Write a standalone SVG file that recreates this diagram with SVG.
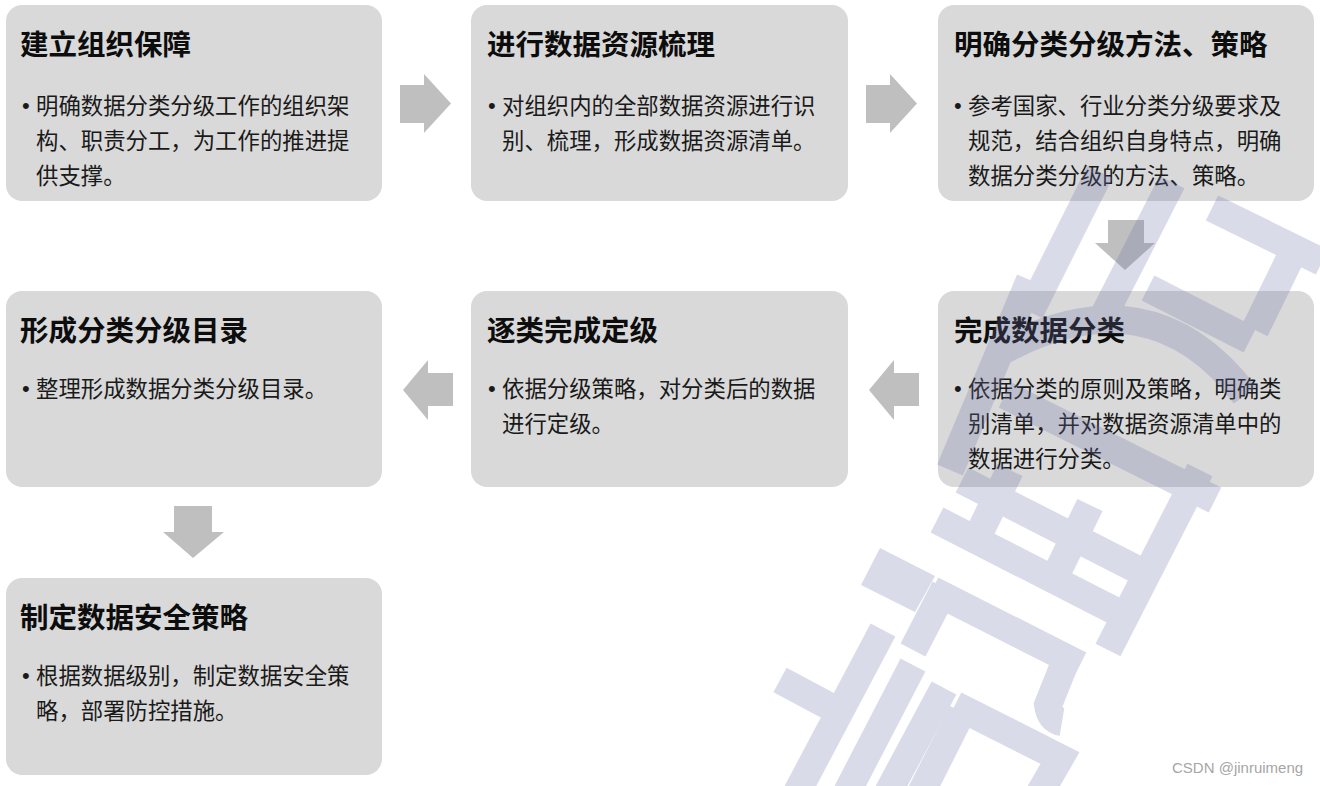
<svg xmlns="http://www.w3.org/2000/svg" width="1320" height="786" viewBox="0 0 1320 786">
<style>
.box{fill:#d9d9d9}
.title{font-family:"Noto Sans CJK SC","Noto Sans",sans-serif;font-size:28.5px;font-weight:700;fill:#0d0d0d}
.body{font-family:"Noto Sans CJK SC","Noto Sans",sans-serif;font-size:22.4px;fill:#1a1a1a}
.bullet{font-family:"Liberation Sans",Arial,sans-serif;font-size:22px;fill:#1a1a1a}
.arrow{fill:#bfbfbf}
.wm{fill:none;stroke:#6e73aa;stroke-width:28;stroke-linecap:butt;stroke-linejoin:miter}
.wmf{fill:#6e73aa}
.credit{font-family:"Liberation Sans",Arial,sans-serif;font-size:15px;fill:#a6a6a6}
</style>
<rect width="1320" height="786" fill="#ffffff"/>

<g id="node-1">
<rect class="box" x="6" y="5" width="376" height="196" rx="16"/>
<text class="title" x="20" y="55">建立组织保障</text>
<text class="bullet" x="22" y="113">•</text>
<text class="body" x="36" y="114">明确数据分类分级工作的组织架</text>
<text class="body" x="36" y="149">构、职责分工，为工作的推进提</text>
<text class="body" x="36" y="184">供支撑。</text>
</g>

<g id="node-2">
<rect class="box" x="471" y="5" width="377" height="196" rx="16"/>
<text class="title" x="487" y="55">进行数据资源梳理</text>
<text class="bullet" x="488" y="113">•</text>
<text class="body" x="502" y="114">对组织内的全部数据资源进行识</text>
<text class="body" x="502" y="149">别、梳理，形成数据资源清单。</text>
</g>

<g id="node-3">
<rect class="box" x="938" y="5" width="376" height="196" rx="16"/>
<text class="title" x="954" y="55">明确分类分级方法、策略</text>
<text class="bullet" x="954" y="113">•</text>
<text class="body" x="968" y="114">参考国家、行业分类分级要求及</text>
<text class="body" x="968" y="149">规范，结合组织自身特点，明确</text>
<text class="body" x="968" y="184">数据分类分级的方法、策略。</text>
</g>

<g id="node-4">
<rect class="box" x="6" y="291" width="376" height="196" rx="16"/>
<text class="title" x="20" y="341">形成分类分级目录</text>
<text class="bullet" x="22" y="396">•</text>
<text class="body" x="36" y="397">整理形成数据分类分级目录。</text>
</g>

<g id="node-5">
<rect class="box" x="471" y="291" width="377" height="196" rx="16"/>
<text class="title" x="487" y="341">逐类完成定级</text>
<text class="bullet" x="488" y="396">•</text>
<text class="body" x="502" y="397">依据分级策略，对分类后的数据</text>
<text class="body" x="502" y="432">进行定级。</text>
</g>

<g id="node-6">
<rect class="box" x="938" y="291" width="376" height="196" rx="16"/>
<text class="title" x="954" y="341">完成数据分类</text>
<text class="bullet" x="954" y="396">•</text>
<text class="body" x="968" y="397">依据分类的原则及策略，明确类</text>
<text class="body" x="968" y="432">别清单，并对数据资源清单中的</text>
<text class="body" x="968" y="467">数据进行分类。</text>
</g>

<g id="node-7">
<rect class="box" x="6" y="578" width="376" height="197" rx="16"/>
<text class="title" x="20" y="628">制定数据安全策略</text>
<text class="bullet" x="22" y="683">•</text>
<text class="body" x="36" y="684">根据数据级别，制定数据安全策</text>
<text class="body" x="36" y="719">略，部署防控措施。</text>
</g>

<g id="connectors">
<polygon class="arrow" points="400,85 424,85 424,74 451,103.5 424,133 424,123 400,123"/>
<polygon class="arrow" points="866,85 890,85 890,74 917,103.5 890,133 890,123 866,123"/>
<polygon class="arrow" points="1108,220 1144,220 1144,243 1155,243 1125,270 1095,243 1108,243"/>
<polygon class="arrow" points="919,373 894,373 894,360 869,390 894,420 894,406 919,406"/>
<polygon class="arrow" points="453,373 428,373 428,360 403,390 428,420 428,406 453,406"/>
<polygon class="arrow" points="174,506 212,506 212,532 224,532 193,558 163,532 174,532"/>
</g>

<g id="watermark" opacity="0.25">
<path class="wm" d="M1100,172 L1030,312"/>
<path class="wm" d="M1172,182 L1104,315"/>
<path class="wm" d="M1212,208 L1322,262"/>
<path class="wm" d="M1300,238 L1255,330"/>
<path class="wm" d="M1148,288 L1250,340"/>
<path class="wm" d="M1000,352 Q1150,270 1245,395"/>
<path class="wm" d="M1030,280 L950,470"/>
<path class="wm" d="M1005,395 L1215,500"/>
<path class="wm" d="M962,480 L1140,571"/>
<path class="wm" d="M937,520 L1115,611"/>
<path class="wm" d="M1010,470 L976,540"/>
<path class="wm" d="M1090,505 L1056,575"/>
<path class="wm" d="M1200,470 L1108,650"/>
<path class="wm" d="M932,590 L1080,665"/>
<path class="wm" d="M945,588 L913,650"/>
<path class="wm" d="M1070,650 L1048,705 Q1050,720 1062,722"/>
<polygon class="wmf" points="880,548 935,576 915,612 861,585"/>
<path class="wm" d="M883,630 L793,800"/>
<path class="wm" d="M913,665 L843,800"/>
<path class="wm" d="M944,688 L884,800"/>
<path class="wm" d="M780,680 L840,712"/>
<path class="wm" d="M955,705 L1060,758 L1030,810"/>
<path class="wm" d="M962,712 L920,795"/>
</g>

<text class="credit" x="1172" y="773">CSDN @jinruimeng</text>
</svg>
